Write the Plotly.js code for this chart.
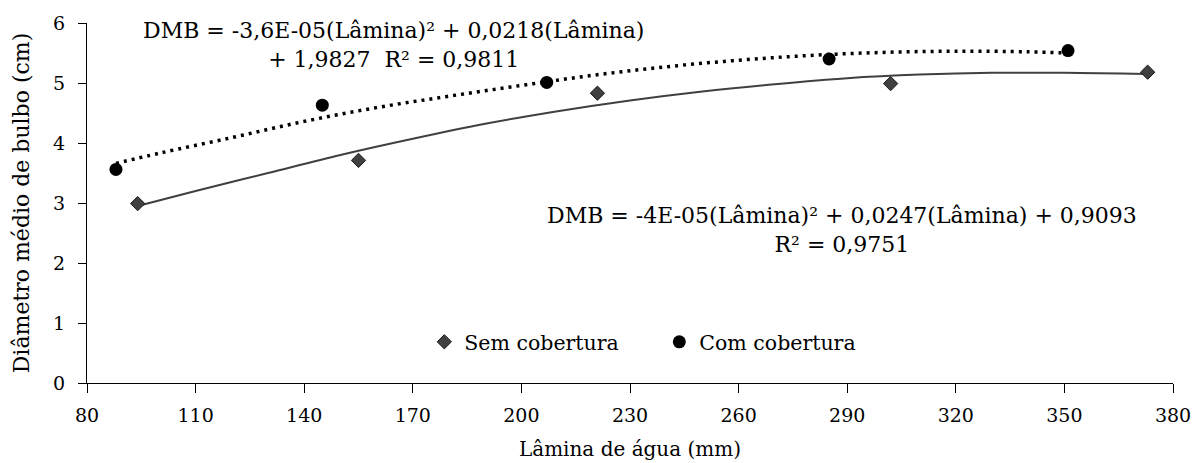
<!DOCTYPE html>
<html>
<head>
<meta charset="utf-8">
<script src="https://cdn.plot.ly/plotly-3.0.1.min.js"></script>
<style>html,body{margin:0;padding:0;background:#fff;}#chart{width:1194px;height:463px;}</style>
</head>
<body>
<div id="chart"></div>
<script>
// Observed points
const semX = [94, 155, 221, 302, 373];
const semY = [2.99, 3.71, 4.83, 4.99, 5.18];
const comX = [88, 145, 207, 285, 351];
const comY = [3.56, 4.63, 5.01, 5.40, 5.54];

// Trend lines
const semTrendX = [94, 110, 130, 150, 170, 190, 210, 230, 250, 270, 290, 310, 330, 350, 373];
const semTrendY = [2.95, 3.20, 3.50, 3.80, 4.07, 4.32, 4.53, 4.71, 4.86, 4.98, 5.08, 5.14, 5.17, 5.17, 5.15];
const comTrendX = [88, 100, 120, 140, 160, 180, 200, 220, 240, 260, 280, 300, 320, 340, 351];
const comTrendY = [3.66, 3.83, 4.09, 4.36, 4.59, 4.78, 4.96, 5.13, 5.27, 5.38, 5.46, 5.51, 5.53, 5.52, 5.50];

const xTicks = [80, 110, 140, 170, 200, 230, 260, 290, 320, 350, 380];
const yTicks = [0, 1, 2, 3, 4, 5, 6];

const eq1 = 'DMB = -3,6E-05(Lâmina)² + 0,0218(Lâmina)<br>+ 1,9827  R² = 0,9811';
const eq2 = 'DMB = -4E-05(Lâmina)² + 0,0247(Lâmina) + 0,9093<br>R² = 0,9751';

const FONT = 'DejaVu Serif, Liberation Serif, serif';

const traces = [
  {x: semTrendX, y: semTrendY, mode: 'lines', showlegend: false, hoverinfo: 'skip',
   line: {color: '#404040', width: 2, shape: 'spline'}},
  {x: comTrendX, y: comTrendY, mode: 'lines', showlegend: false, hoverinfo: 'skip',
   line: {color: '#000000', width: 3.5, dash: '3px,5px', shape: 'spline'}},
  {x: semX, y: semY, mode: 'markers', name: 'Sem cobertura',
   marker: {symbol: 'diamond', size: 11, color: '#404040', line: {color: '#1a1a1a', width: 1}}},
  {x: comX, y: comY, mode: 'markers', name: 'Com cobertura',
   marker: {symbol: 'circle', size: 13, color: '#000000'}}
];

const layout = {
  width: 1194, height: 463,
  margin: {l: 87, r: 21, t: 23, b: 80},
  paper_bgcolor: '#fff', plot_bgcolor: '#fff',
  font: {family: FONT, size: 19, color: '#000'},
  xaxis: {
    range: [80, 380], tickvals: xTicks, ticktext: xTicks.map(String),
    showline: true, linecolor: '#000', linewidth: 1, mirror: false,
    ticks: 'outside', ticklen: 9, tickcolor: '#000', showgrid: false, zeroline: false,
    ticklabelstandoff: 6,
    tickfont: {family: FONT, size: 19, color: '#000'},
    title: {text: 'Lâmina de água (mm)', font: {family: FONT, size: 20, color: '#000'}, standoff: 17}
  },
  yaxis: {
    range: [0, 6], tickvals: yTicks, ticktext: yTicks.map(String),
    showline: true, linecolor: '#000', linewidth: 1, mirror: false,
    ticks: 'outside', ticklen: 8, tickcolor: '#000', showgrid: false, zeroline: false,
    ticklabelstandoff: 9,
    tickfont: {family: FONT, size: 19, color: '#000'},
    title: {text: 'Diâmetro médio de bulbo (cm)', font: {family: FONT, size: 22, color: '#000'}, standoff: 17}
  },
  legend: {orientation: 'h', x: 0.527, y: 0.114, xanchor: 'center', yanchor: 'middle',
           font: {family: FONT, size: 20.5, color: '#000'}, bgcolor: 'rgba(0,0,0,0)',
           itemwidth: 30, entrywidth: 190, entrywidthmode: 'pixels'},
  annotations: [
    {xref: 'paper', yref: 'paper', x: 0.2826, y: 0.9397, xanchor: 'center', yanchor: 'middle',
     text: eq1, showarrow: false, align: 'center', font: {family: FONT, size: 22, color: '#000'}},
    {xref: 'paper', yref: 'paper', x: 0.695, y: 0.4254, xanchor: 'center', yanchor: 'middle',
     text: eq2, showarrow: false, align: 'center', font: {family: FONT, size: 22, color: '#000'}}
  ],
  showlegend: true
};

Plotly.newPlot('chart', traces, layout, {staticPlot: true, displayModeBar: false});
</script>
</body>
</html>
